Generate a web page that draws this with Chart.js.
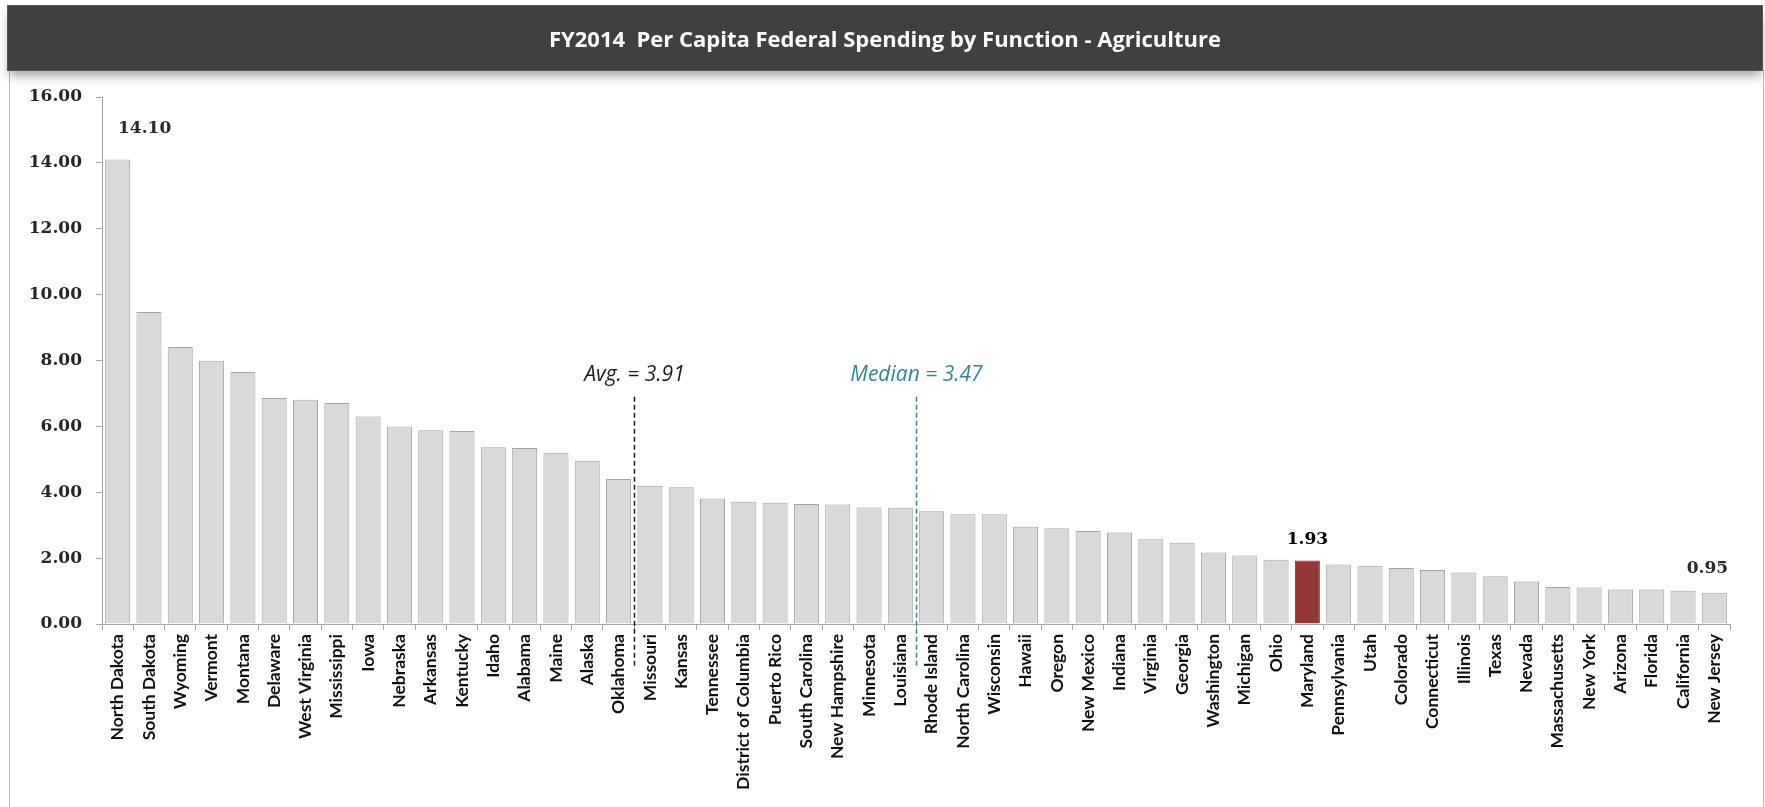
<!DOCTYPE html>
<html>
<head>
<meta charset="utf-8">
<title>FY2014 Per Capita Federal Spending by Function - Agriculture</title>
<script src="https://cdn.jsdelivr.net/npm/chart.js@4.4.0/dist/chart.umd.min.js"></script>
<style>
  html, body { margin: 0; padding: 0; background: #fff; }
  body { width: 1765px; height: 807px; position: relative; overflow: hidden; }
  #frame {
    position: absolute; left: 9px; top: 70px; width: 1753px; height: 760px;
    border-left: 1px solid #bdbdbd; border-right: 1px solid #bdbdbd;
  }
  #titlebar {
    position: absolute; left: 7px; top: 5px; width: 1754px; height: 64px;
    background: #404040; border: 1px solid #575757;
    box-shadow: 0 7px 10px -2px rgba(0,0,0,0.35);
    color: #fff; font-family: "Open Sans", sans-serif; font-weight: 700;
    font-size: 22px; line-height: 64px; text-align: center; white-space: pre;
  }
  #chart { position: absolute; left: 0; top: 0; }
</style>
</head>
<body>
<div id="frame"></div>
<canvas id="chart" width="1765" height="807"></canvas>
<div id="titlebar">FY2014  Per Capita Federal Spending by Function - Agriculture</div>
<script>
// ------------------------------
//  Data
// ------------------------------
const states = [
  "North Dakota", "South Dakota", "Wyoming", "Vermont", "Montana", "Delaware",
  "West Virginia", "Mississippi", "Iowa", "Nebraska", "Arkansas", "Kentucky",
  "Idaho", "Alabama", "Maine", "Alaska", "Oklahoma", "Missouri", "Kansas",
  "Tennessee", "District of Columbia", "Puerto Rico", "South Carolina",
  "New Hampshire", "Minnesota", "Louisiana", "Rhode Island", "North Carolina",
  "Wisconsin", "Hawaii", "Oregon", "New Mexico", "Indiana", "Virginia",
  "Georgia", "Washington", "Michigan", "Ohio", "Maryland", "Pennsylvania",
  "Utah", "Colorado", "Connecticut", "Illinois", "Texas", "Nevada",
  "Massachusetts", "New York", "Arizona", "Florida", "California", "New Jersey"
];
const perCapita = [
  14.10, 9.47, 8.41, 7.99, 7.65, 6.86,
  6.81, 6.71, 6.30, 6.00, 5.88, 5.86,
  5.37, 5.34, 5.20, 4.96, 4.40, 4.20, 4.15,
  3.81, 3.71, 3.68, 3.64,
  3.63, 3.54, 3.53, 3.42, 3.33,
  3.33, 2.95, 2.91, 2.82, 2.78, 2.57,
  2.47, 2.17, 2.08, 1.95, 1.93, 1.81,
  1.77, 1.70, 1.64, 1.56, 1.45, 1.29,
  1.12, 1.11, 1.05, 1.05, 1.01, 0.95
];
const yTicks = [0, 2, 4, 6, 8, 10, 12, 14, 16];
const highlightState = "Maryland";
const labelledStates = ["North Dakota", "Maryland", "New Jersey"];

// reference markers: value, and the state after which the marker line sits
const avgValue = 3.91;
const avgAfter = "Oklahoma";
const medianValue = 3.47;
const medianAfter = "Louisiana";

// ------------------------------
//  Colours
// ------------------------------
const barFill = states.map(s => s === highlightState ? "#953735" : "#D9D9D9");
const barLine = states.map(s => s === highlightState ? "#7a2b2a" : "#A5A5A5");

// ------------------------------
//  Markers + value labels
// ------------------------------
const markerPlugin = {
  id: "markers",
  afterDatasetsDraw(chart) {
    const { ctx, chartArea, scales } = chart;
    const x = scales.x, y = scales.y;

    function vline(after, text, color) {
      const i = states.indexOf(after);
      const px = Math.round((x.getPixelForTick(i) + x.getPixelForTick(i + 1)) / 2) + 0.5;
      ctx.save();
      ctx.strokeStyle = color;
      ctx.lineWidth = 1.5;
      ctx.setLineDash([5, 3]);
      ctx.beginPath();
      ctx.moveTo(px, y.getPixelForValue(6.9));
      ctx.lineTo(px, chartArea.bottom + 44);
      ctx.stroke();
      ctx.setLineDash([]);
      ctx.fillStyle = color;
      ctx.font = "italic 21px 'Open Sans', sans-serif";
      ctx.textAlign = "center";
      ctx.textBaseline = "middle";
      ctx.fillText(text, px, y.getPixelForValue(7.55));
      ctx.restore();
    }
    vline(avgAfter, "Avg. = " + avgValue.toFixed(2), "#1c1c24");
    vline(medianAfter, "Median = " + medianValue.toFixed(2), "#31849B");

    // value labels above selected bars
    const meta = chart.getDatasetMeta(0);
    const offsets = { "North Dakota": [27, -31], "Maryland": [0, -21], "New Jersey": [-7, -24] };
    ctx.save();
    ctx.textAlign = "center";
    ctx.textBaseline = "middle";
    labelledStates.forEach(s => {
      const i = states.indexOf(s);
      const bar = meta.data[i];
      const off = offsets[s];
      ctx.font = "bold 17px 'DejaVu Serif', serif";
      ctx.fillStyle = s === highlightState ? "#000" : "#2a2a2a";
      ctx.fillText(perCapita[i].toFixed(2), bar.x + off[0], bar.y + off[1]);
    });
    ctx.restore();
  }
};

// ------------------------------
//  Chart
// ------------------------------
const ctx = document.getElementById("chart").getContext("2d");

const spendingChart = new Chart(ctx, {
  type: "bar",
  data: {
    labels: states,
    datasets: [{
      data: perCapita,
      backgroundColor: barFill,
      borderColor: barLine,
      borderWidth: 1,
      barPercentage: 0.8,
      categoryPercentage: 1.0
    }]
  },
  options: {
    responsive: false,
    animation: false,
    layout: { padding: { left: 0, right: 35, top: 97, bottom: 0 } },
    plugins: {
      legend: { display: false },
      tooltip: { enabled: false },
      title: { display: false }
    },
    scales: {
      x: {
        afterFit(scale) { scale.height = 807 - 624; },
        border: { color: "#A6A6A6", width: 1 },
        grid: { drawOnChartArea: false, color: "#A6A6A6", tickLength: 6, offset: true },
        ticks: {
          autoSkip: false,
          minRotation: 90,
          maxRotation: 90,
          padding: 4,
          color: "#111",
          font: { family: "Lato", weight: "bold", size: 17.5 }
        }
      },
      y: {
        min: 0,
        max: 16,
        afterFit(scale) { scale.width = 102; },
        afterBuildTicks(scale) { scale.ticks = yTicks.map(v => ({ value: v })); },
        border: { color: "#A6A6A6", width: 1 },
        grid: { drawOnChartArea: false, color: "#A6A6A6", tickLength: 6 },
        ticks: {
          padding: 14,
          color: "#262626",
          font: { family: "DejaVu Serif", weight: "bold", size: 17 },
          callback: v => Number(v).toFixed(2)
        }
      }
    }
  },
  plugins: [markerPlugin]
});
</script>
</body>
</html>
